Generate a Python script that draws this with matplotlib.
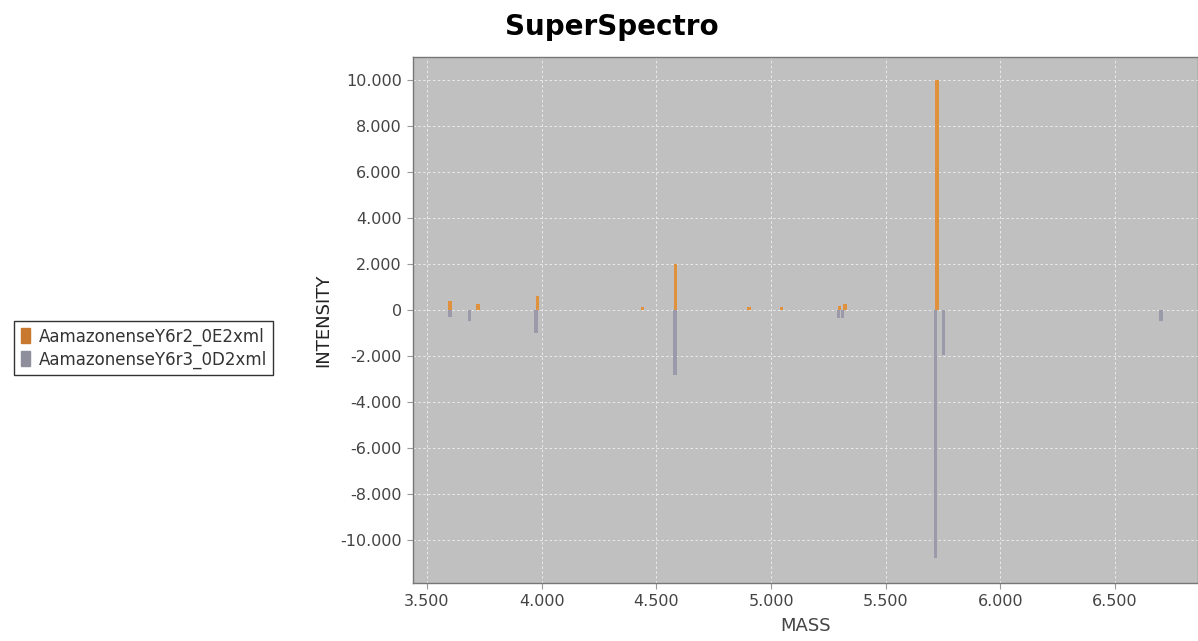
import matplotlib
matplotlib.use('Agg')
import matplotlib.pyplot as plt
import matplotlib.ticker
import matplotlib.patches

# peaks (mass, intensity)
mass_a = [3600, 3722, 3983, 4441, 4585, 4904, 5047, 5298, 5322, 5723]
inten_a = [390, 250, 610, 150, 1980, 150, 150, 180, 260, 10000]

mass_b = [3600, 3687, 3975, 4581, 5293, 5312, 5718, 5750, 6700]
inten_b = [-290, -480, -990, -2830, -330, -330, -10780, -1960, -470]

series_names = ['AamazonenseY6r2_0E2xml', 'AamazonenseY6r3_0D2xml']
color_a = '#E0913D'
color_b = '#9A9AAB'
legend_a = '#C8782F'
legend_b = '#8E8E9C'

fig = plt.figure(figsize=(11.98, 6.41), dpi=100)
ax = fig.add_axes([413/1198, 1-583/641, 785/1198, 526/641])
ax.set_facecolor('#C0C0C0')

w = 14
ax.bar(mass_a, inten_a, width=w, color=color_a, linewidth=0, zorder=3)
ax.bar(mass_b, inten_b, width=w, color=color_b, linewidth=0, zorder=3)

ax.set_xlim(3439, 6861)
ax.set_ylim(-11870, 11000)
ax.xaxis.set_major_locator(matplotlib.ticker.MultipleLocator(500))
ax.yaxis.set_major_locator(matplotlib.ticker.MultipleLocator(2000))

def fmt(v, pos):
    return '{:,.0f}'.format(v).replace(',', '.')

ax.xaxis.set_major_formatter(matplotlib.ticker.FuncFormatter(fmt))
ax.yaxis.set_major_formatter(matplotlib.ticker.FuncFormatter(fmt))

ax.grid(True, color='#EBEBEB', linestyle=(0, (2.5, 2.5)), linewidth=0.7, zorder=1)
ax.tick_params(labelsize=11.5, colors='#444444', length=4, width=0.8,
               direction='out', pad=4)
ax.tick_params(axis='both', color='#999999')
for s in ax.spines.values():
    s.set_color('#777777')
    s.set_linewidth(1.0)

ax.set_xlabel('MASS', fontsize=13, color='#444444', labelpad=6)
ax.set_ylabel('INTENSITY', fontsize=13, color='#222222', labelpad=6)

fig.text(612/1198, 1-27/641, 'SuperSpectro', fontsize=20, fontweight='bold',
         ha='center', va='center')

handles = [matplotlib.patches.Patch(color=legend_a), matplotlib.patches.Patch(color=legend_b)]
leg = fig.legend(handles, series_names, loc='center left',
                 bbox_to_anchor=(6/1198, 1-348/641), fontsize=12,
                 frameon=True, fancybox=False, handlelength=0.55, handleheight=1.0,
                 handletextpad=0.5, borderpad=0.4, labelspacing=0.3)
leg.get_frame().set_edgecolor('black')
leg.get_frame().set_linewidth(1.0)
for t in leg.get_texts():
    t.set_color('#333333')

fig.savefig('out.png', dpi=100)
